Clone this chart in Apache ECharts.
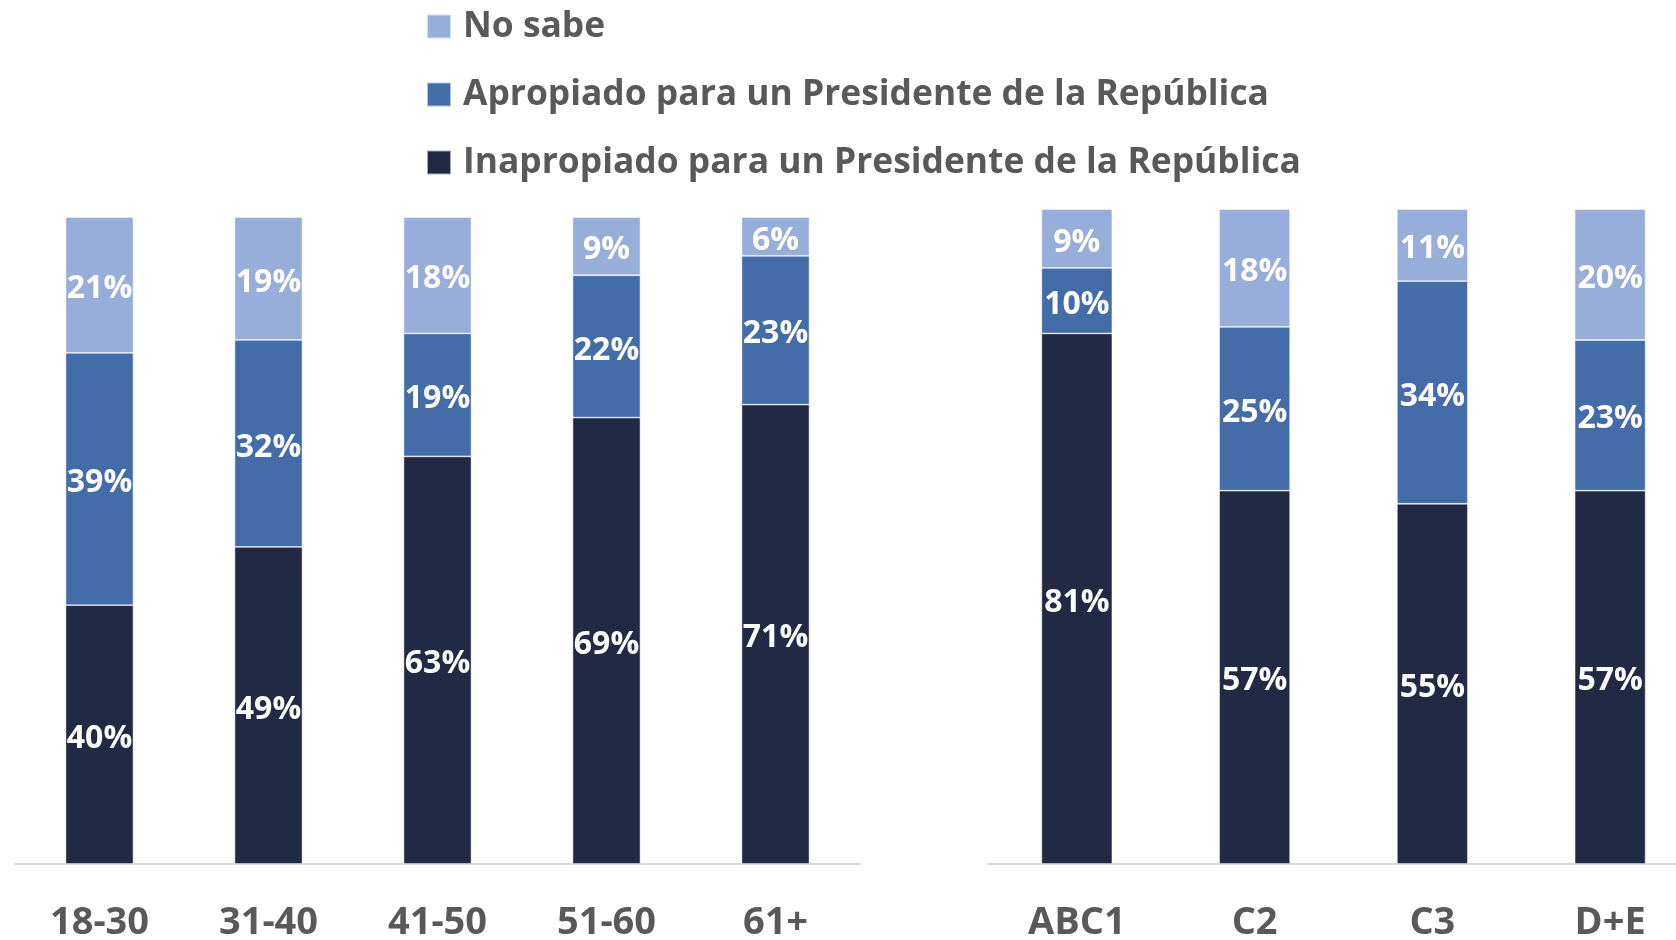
<!DOCTYPE html>
<html>
<head>
<meta charset="utf-8">
<script src="https://cdn.jsdelivr.net/npm/echarts@6/dist/echarts.min.js"></script>
<style>
html,body{margin:0;padding:0;background:#fff;}
#c{width:1676px;height:940px;}
</style>
</head>
<body>
<div id="c"></div>
<script>
const ageCategories = ['18-30', '31-40', '41-50', '51-60', '61+'];
const gseCategories = ['ABC1', 'C2', 'C3', 'D+E'];
const seriesNames = ['Inapropiado para un Presidente de la República', 'Apropiado para un Presidente de la República', 'No sabe'];
const ageInapropiado = [40, 49, 63, 69, 71];
const ageApropiado = [39, 32, 19, 22, 23];
const ageNoSabe = [21, 19, 18, 9, 6];
const gseInapropiado = [81, 57, 55, 57];
const gseApropiado = [10, 25, 34, 23];
const gseNoSabe = [9, 18, 11, 20];

const colors = ['#222945', '#436CA8', '#97AEDA'];
const FONT = 'Open Sans';

const chart = echarts.init(document.getElementById('c'), null, {renderer: 'canvas'});

function mkSeries(name, data, idx, color, bw) {
  return {
    name: name,
    type: 'bar',
    stack: 'g' + idx,
    xAxisIndex: idx,
    yAxisIndex: idx,
    data: data,
    barWidth: bw,
    itemStyle: {color: color, borderColor: 'rgba(255,255,255,0.6)', borderWidth: 0.8},
    label: {
      show: true,
      position: 'inside',
      offset: [0, 4],
      formatter: '{c}%',
      color: '#ffffff',
      fontFamily: FONT,
      fontWeight: 'bold',
      fontSize: 32
    },
    emphasis: {disabled: true}
  };
}

const xAxisCommon = {
  type: 'category',
  axisTick: {show: false},
  axisLine: {lineStyle: {color: '#d9d9d9', width: 2}},
  axisLabel: {color: '#595959', fontFamily: FONT, fontWeight: 'bold', fontSize: 38, margin: 40}
};

const option = {
  animation: false,
  backgroundColor: '#ffffff',
  legend: {
    orient: 'vertical',
    left: 421,
    top: 4,
    itemWidth: 24,
    itemHeight: 24,
    itemGap: 33,
    icon: 'rect',
    data: [seriesNames[2], seriesNames[1], seriesNames[0]],
    textStyle: {color: '#595959', fontFamily: FONT, fontWeight: 'bold', fontSize: 35.4, padding: [0, 0, 0, 7]}
  },
  grid: [
    {left: 15, top: 217, width: 845, height: 647, outerBoundsMode: 'none', containLabel: false},
    {left: 988, top: 209, width: 711, height: 655, outerBoundsMode: 'none', containLabel: false}
  ],
  xAxis: [
    Object.assign({gridIndex: 0, data: ageCategories}, xAxisCommon),
    Object.assign({gridIndex: 1, data: gseCategories}, xAxisCommon)
  ],
  yAxis: [
    {gridIndex: 0, type: 'value', min: 0, max: 100, show: false},
    {gridIndex: 1, type: 'value', min: 0, max: 100, show: false}
  ],
  series: [
    mkSeries(seriesNames[0], ageInapropiado, 0, colors[0], 68),
    mkSeries(seriesNames[1], ageApropiado, 0, colors[1], 68),
    mkSeries(seriesNames[2], ageNoSabe, 0, colors[2], 68),
    mkSeries(seriesNames[0], gseInapropiado, 1, colors[0], 71),
    mkSeries(seriesNames[1], gseApropiado, 1, colors[1], 71),
    mkSeries(seriesNames[2], gseNoSabe, 1, colors[2], 71)
  ]
};
chart.setOption(option);
</script>
</body>
</html>
